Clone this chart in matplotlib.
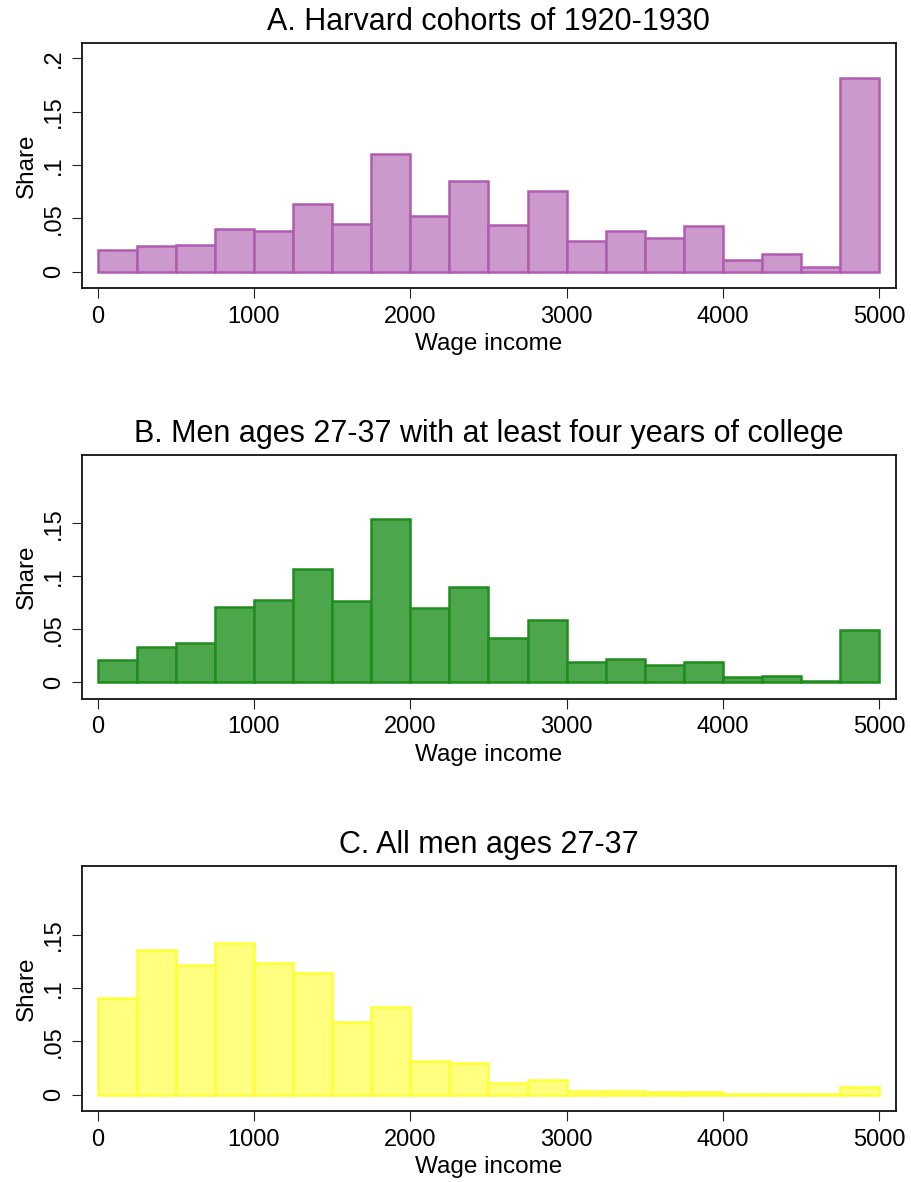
import matplotlib
matplotlib.use("Agg")
import matplotlib.pyplot as plt
import numpy as np

plt.rcParams['font.family'] = ['Liberation Sans', 'DejaVu Sans']

bin_edges = list(range(0, 5001, 250))

share_harvard = [0.0203, 0.0240, 0.0247, 0.0403, 0.0384, 0.0631, 0.0450, 0.1100,
                 0.0525, 0.0850, 0.0438, 0.0760, 0.0288, 0.0378, 0.0313, 0.0428,
                 0.0106, 0.0166, 0.0047, 0.1820]
share_college = [0.0210, 0.0338, 0.0375, 0.0710, 0.0780, 0.1066, 0.0770, 0.1540,
                 0.0700, 0.0897, 0.0420, 0.0590, 0.0194, 0.0219, 0.0163, 0.0197,
                 0.0050, 0.0060, 0.0015, 0.0490]
share_all = [0.0910, 0.1360, 0.1216, 0.1425, 0.1240, 0.1147, 0.0684, 0.0825,
             0.0320, 0.0294, 0.0110, 0.0138, 0.0038, 0.0038, 0.0025, 0.0025,
             0.0010, 0.0010, 0.0005, 0.0075]

titles = ["A. Harvard cohorts of 1920-1930",
          "B. Men ages 27-37 with at least four years of college",
          "C. All men ages 27-37"]
xticks = [0, 1000, 2000, 3000, 4000, 5000]
yticks_a = [0, 0.05, 0.1, 0.15, 0.2]
yticklabels_a = ["0", ".05", ".1", ".15", ".2"]
yticks_bc = [0, 0.05, 0.1, 0.15]
yticklabels_bc = ["0", ".05", ".1", ".15"]

fills = ["#CC99CC", "#4CA64C", "#FFFF80"]
edges = ["#B05CB0", "#1E8C1E", "#FFFF33"]

fig = plt.figure(figsize=(9.12, 11.82), dpi=100)
W, H = 912, 1182
boxes = [(82, 42.7, 895.7, 288.3), (82, 454.7, 895.7, 699.0), (82, 866.0, 895.7, 1111.3)]
data = [share_harvard, share_college, share_all]

for i, (l, t, r, b) in enumerate(boxes):
    ax = fig.add_axes([l / W, 1 - b / H, (r - l) / W, (b - t) / H])
    left = np.array(bin_edges[:-1])
    widths = np.diff(bin_edges)
    ax.bar(left, data[i], width=widths, align='edge', color=fills[i],
           edgecolor=edges[i], linewidth=1.8)
    ax.set_xlim(-100, 5105)
    ax.set_ylim(-0.0156, 0.2147)
    ax.set_xticks(xticks)
    ax.set_xticklabels([str(v) for v in xticks])
    if i == 0:
        ax.set_yticks(yticks_a)
        ax.set_yticklabels(yticklabels_a)
    else:
        ax.set_yticks(yticks_bc)
        ax.set_yticklabels(yticklabels_bc)
    ax.tick_params(axis='both', labelsize=17, length=7.5, width=0.8, color='#222222')
    ax.tick_params(axis='x', pad=5)
    ax.tick_params(axis='y', pad=4.5)
    for lab in ax.get_yticklabels():
        lab.set_rotation(90)
        lab.set_va('center')
    ax.set_xlabel("Wage income", fontsize=17.5, labelpad=4)
    ax.set_ylabel("Share", fontsize=17.5, labelpad=4)
    ax.set_title(titles[i], fontsize=22, pad=9)
    for s in ax.spines.values():
        s.set_linewidth(1.3)
        s.set_color('#111111')

fig.savefig("out.png", dpi=100, facecolor='white')
